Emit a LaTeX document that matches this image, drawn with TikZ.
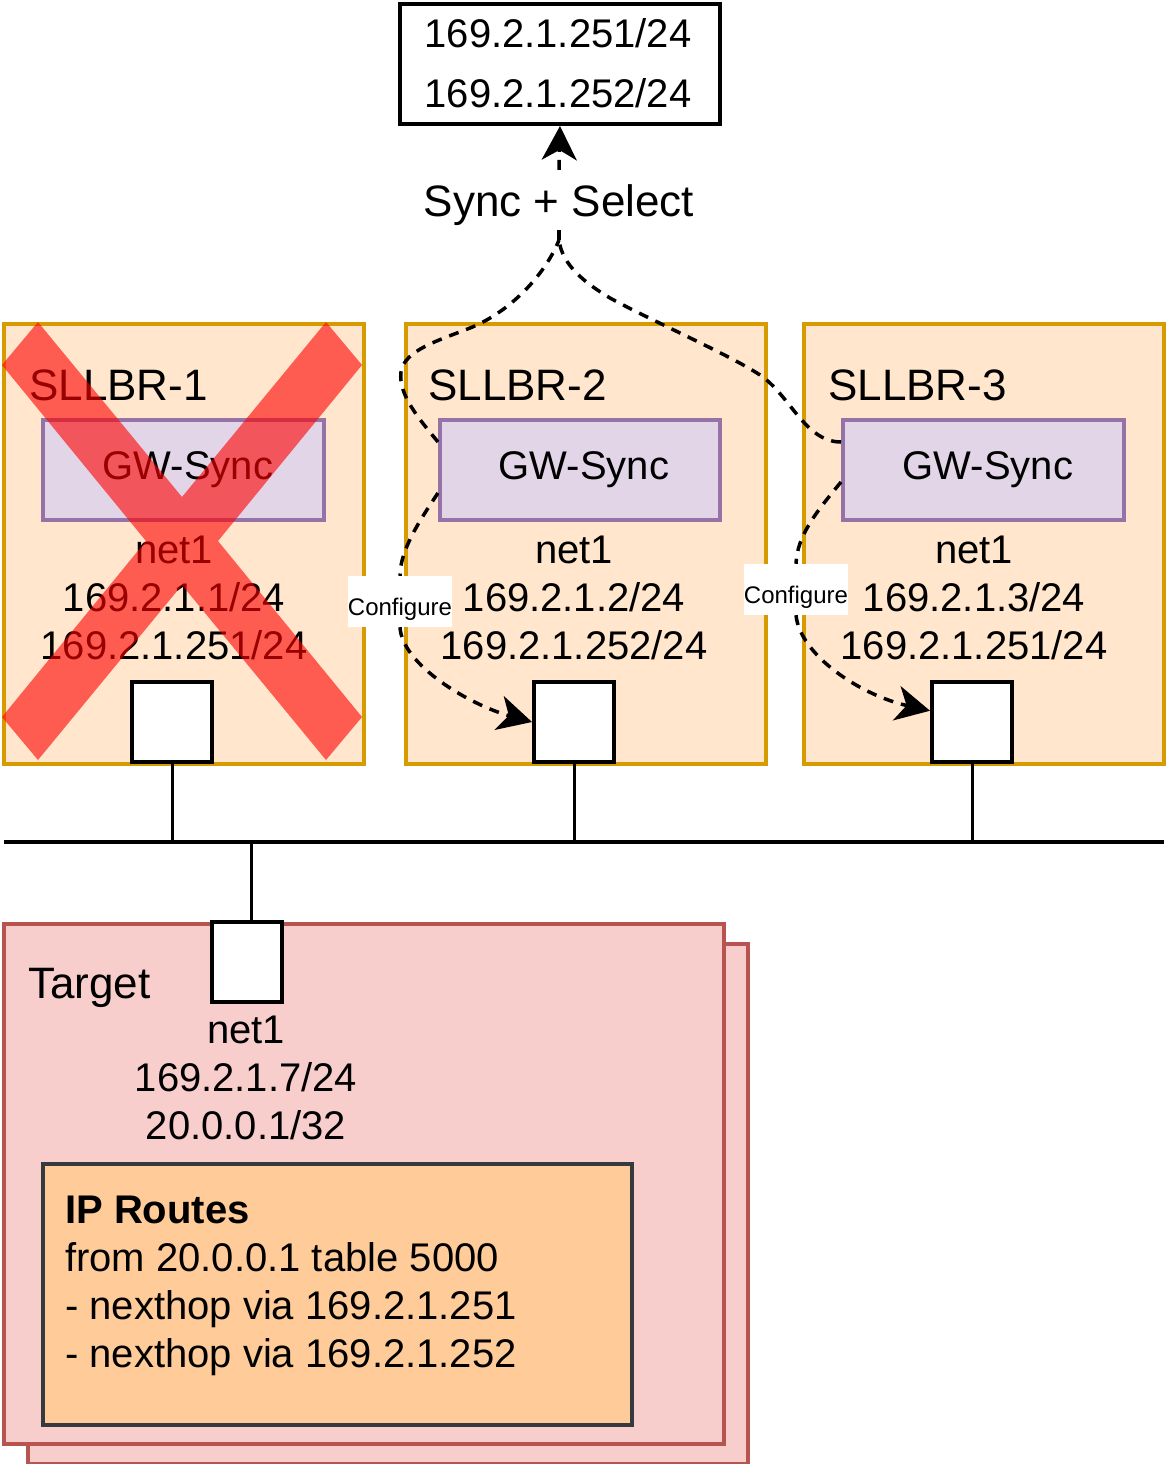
\documentclass[tikz,border=0pt]{standalone}
\usepackage{fontspec}
\setmainfont{Liberation Sans}
\usetikzlibrary{arrows.meta,calc}
\definecolor{peach}{HTML}{FFE6CC}
\definecolor{peachline}{HTML}{D79B00}
\definecolor{lav}{HTML}{E1D5E7}
\definecolor{lavline}{HTML}{9673A6}
\definecolor{pinkfill}{HTML}{F8CECC}
\definecolor{pinkline}{HTML}{B85450}
\definecolor{routefill}{HTML}{FFCC99}
\definecolor{routeline}{HTML}{36393D}
\begin{document}
\begin{tikzpicture}[x=1pt,y=-1pt,
  sllbr/.style={draw=peachline,fill=peach,line width=3.5pt,minimum width=360pt,minimum height=440pt,inner sep=0pt,anchor=north west},
  gwbox/.style={draw=lavline,fill=lav,line width=3.5pt,minimum height=100pt,inner sep=0pt,anchor=north west},
  port/.style={draw=black,fill=white,line width=4pt,minimum width=80pt,minimum height=80pt,inner sep=0pt},
  tgt/.style={draw=pinkline,fill=pinkfill,line width=3.5pt,minimum width=720pt,minimum height=520pt,inner sep=0pt,anchor=north west},
  txt/.style={font=\fontsize{40}{48}\selectfont,inner sep=0pt,anchor=base},
  txtl/.style={txt,anchor=base west},
  big/.style={font=\fontsize{44}{53}\selectfont},
  cfg/.style={font=\fontsize{24}{29}\selectfont,fill=white,inner sep=0pt,minimum width=104pt,text height=39pt,text depth=12pt,anchor=base},
  wire/.style={line width=3pt},
  dsh/.style={line width=3.5pt,dash pattern=on 10pt off 8pt},
  tip/.style={-{Stealth[length=34pt,width=35pt,inset=10pt]}}
]
\useasboundingbox (0,0) rectangle (1172,1464);

% top box
\node[draw=black,fill=white,line width=4pt,minimum width=320pt,minimum height=120pt,inner sep=0pt,anchor=north west] (top) at (398,2) {};
\node[txt] (topa) at (558,48) {169.2.1.251/24};
\node[txt] (topb) at (558,107) {169.2.1.252/24};

% SLLBR boxes
\node[sllbr] (s1) at (2,322) {};
\node[sllbr] (s2) at (404,322) {};
\node[sllbr] (s3) at (802,322) {};
\node[txtl,big] (s1n) at (29,400) {SLLBR-1};
\node[txtl,big] (s2n) at (428,400) {SLLBR-2};
\node[txtl,big] (s3n) at (828,400) {SLLBR-3};

% GW-Sync boxes
\node[gwbox,minimum width=281pt] (gw1) at (41,418) {};
\node[gwbox,minimum width=280pt] (gw2) at (438,418) {};
\node[gwbox,minimum width=281pt] (gw3) at (841,418) {};
\node[txt] (gw1t) at (188,479) {GW-Sync};
\node[txt] (gw2t) at (584,479) {GW-Sync};
\node[txt] (gw3t) at (988,479) {GW-Sync};

% interface texts
\node[txt] (a1) at (174,563) {net1};
\node[txt] (a2) at (174,611) {169.2.1.1/24};
\node[txt] (a3) at (174,659) {169.2.1.251/24};
\node[txt] (b1) at (574,563) {net1};
\node[txt] (b2) at (574,611) {169.2.1.2/24};
\node[txt] (b3) at (574,659) {169.2.1.252/24};
\node[txt] (c1) at (974,563) {net1};
\node[txt] (c2) at (974,611) {169.2.1.3/24};
\node[txt] (c3) at (974,659) {169.2.1.251/24};

% ports
\node[port] (p1) at (172,722) {};
\node[port] (p2) at (574,722) {};
\node[port] (p3) at (972,722) {};

% failed X over SLLBR-1
\fill[red,fill opacity=0.6] (38,322) -- (182,497) -- (326,322) -- (362,365) -- (218,541) -- (362,717) -- (326,760) -- (182,585) -- (38,760) -- (2,717) -- (146,541) -- (2,365) -- cycle;

% bus
\coordinate (busL) at (4,842);
\coordinate (busR) at (1164,842);
\draw[line width=3.5pt] (busL) -- (busR);
\draw[wire] (p1.south) -- (p1.south |- busL);
\draw[wire] (p2.south) -- (p2.south |- busL);
\draw[wire] (p3.south) -- (p3.south |- busL);

% target
\node[tgt] (tback) at (26,942) {};
\node[tgt] (tfront) at (2,922) {};
\node[draw=black,fill=white,line width=4pt,minimum width=70pt,minimum height=80pt,inner sep=0pt] (pt) at (247,962) {};
\coordinate (ptc) at ($(pt.north)+(4,0)$);
\draw[wire] (ptc) -- (ptc |- busL);
\node[txtl,big] (tlab) at (28,998) {Target};
\node[txt] (d1) at (246,1043) {net1};
\node[txt] (d2) at (246,1091) {169.2.1.7/24};
\node[txt] (d3) at (246,1139) {20.0.0.1/32};

% routes
\node[draw=routeline,fill=routefill,line width=3.5pt,minimum width=589pt,minimum height=261pt,inner sep=0pt,anchor=north west] (routes) at (41,1162) {};
\node[txtl] (r1) at (65,1223) {\textbf{IP Routes}};
\node[txtl] (r2) at (65,1271) {from 20.0.0.1 table 5000};
\node[txtl] (r3) at (65,1319) {- nexthop via 169.2.1.251};
\node[txtl] (r4) at (65,1367) {- nexthop via 169.2.1.252};

% sync + select
\coordinate (s2a) at (438,442);
\coordinate (s3a) at (841,442);
\coordinate (j) at (559,240);
\node[txt,big,fill=white,text height=46pt,text depth=14pt] (sync) at (559,216) {Sync + Select};
\draw[dsh] (s2a) .. controls (420,420) and (398,395) .. (401,372)
  .. controls (404,350) and (440,340) .. (470,328)
  .. controls (510,312) and (545,275) .. (j);
\draw[dsh] (s3a) .. controls (805,442) and (790,395) .. (760,375)
  .. controls (730,355) and (650,320) .. (610,298)
  .. controls (585,283) and (562,265) .. (j);
\draw[dsh] (j) -- (sync.south);
\draw[dsh,tip] (sync.north) -- (top.south);

% configure
\coordinate (c2a) at (438,493);
\coordinate (c3a) at (841,482);
\node[cfg] (cfg2) at (400,615) {Configure};
\node[cfg] (cfg3) at (796,603) {Configure};
\draw[dsh] (c2a) .. controls (420,520) and (400,550) .. (cfg2.north);
\draw[dsh,tip] (cfg2.south) .. controls (402,665) and (470,705) .. (p2.west);
\draw[dsh] (c3a) .. controls (818,510) and (797,535) .. (cfg3.north);
\draw[dsh,tip] (cfg3.south) .. controls (800,655) and (860,695) .. (p3.165);
\end{tikzpicture}
\end{document}
